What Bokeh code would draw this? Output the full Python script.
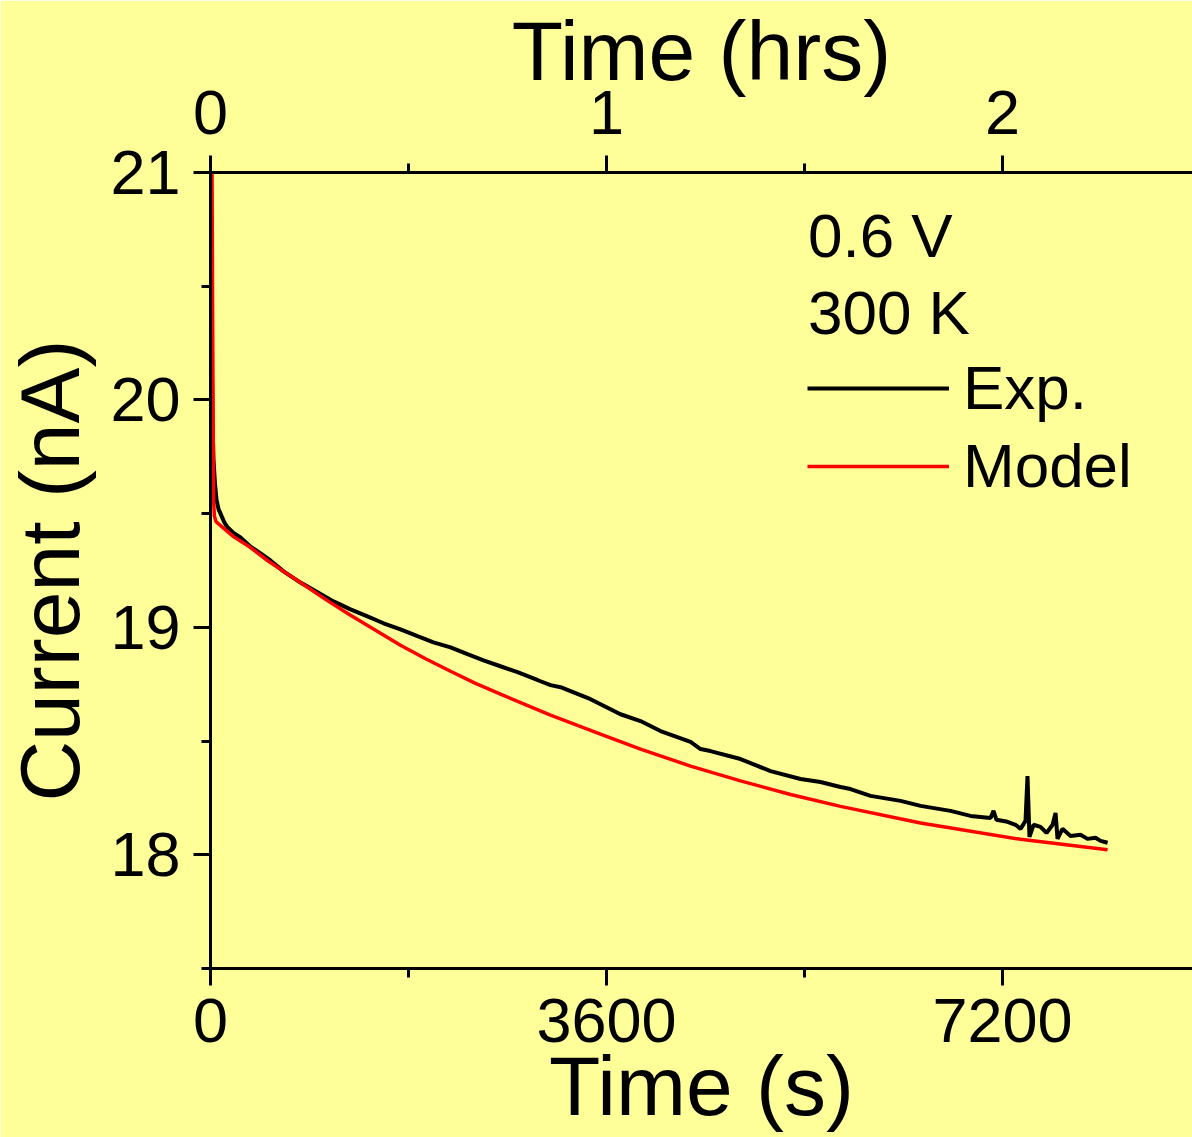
from bokeh.plotting import figure
from bokeh.models import (Range1d, LinearAxis, FixedTicker, Legend, LegendItem, Label)
from bokeh.embed import file_html
from bokeh.resources import INLINE

# ---------------- data ----------------
exp_t = [0, 9, 18, 27, 41, 55, 73, 100, 127, 155, 209, 273, 364, 455, 545, 664, 818, 973,
         1118, 1273, 1427, 1573, 1727, 1882, 2027, 2182, 2336, 2482, 2636, 2791, 2936, 3000,
         3091, 3182, 3455, 3727, 3909, 4091, 4364, 4455, 4545, 4818, 5091, 5364, 5545, 5727,
         5818, 6000, 6273, 6455, 6727, 6909, 7091, 7118, 7145, 7245, 7318, 7364, 7409, 7427,
         7445, 7482, 7545, 7600, 7655, 7682, 7700, 7745, 7818, 7909, 7973, 8045, 8091, 8155]
exp_i = [21.0, 20.31, 19.91, 19.74, 19.63, 19.56, 19.52, 19.49, 19.46, 19.44, 19.415, 19.395,
         19.355, 19.325, 19.294, 19.246, 19.197, 19.154, 19.114, 19.079, 19.048, 19.018, 18.991,
         18.961, 18.934, 18.912, 18.882, 18.855, 18.829, 18.803, 18.776, 18.763, 18.746, 18.737,
         18.684, 18.618, 18.588, 18.544, 18.496, 18.465, 18.456, 18.421, 18.368, 18.333, 18.320,
         18.298, 18.289, 18.259, 18.237, 18.215, 18.193, 18.171, 18.162, 18.193, 18.154, 18.145,
         18.132, 18.114, 18.149, 18.346, 18.079, 18.132, 18.123, 18.096, 18.132, 18.184, 18.070,
         18.114, 18.083, 18.088, 18.070, 18.075, 18.061, 18.053]

model_t = [14, 20, 28, 35, 50, 73, 209, 364, 518, 664, 818, 1045, 1273, 1500, 1727, 1955,
           2182, 2409, 2636, 3091, 3545, 3909, 4364, 4818, 5273, 5727, 6455, 7364, 8155]
model_i = [21.0, 20.3, 19.56, 19.49, 19.465, 19.455, 19.399, 19.351, 19.294, 19.246, 19.197,
           19.123, 19.053, 18.987, 18.921, 18.862, 18.807, 18.754, 18.706, 18.614, 18.531,
           18.465, 18.390, 18.325, 18.265, 18.213, 18.140, 18.068, 18.022]

x_ticks = [0, 3600, 7200]
x_minor = [1800, 5400]
hr_ticks = [0, 1, 2]
hr_minor = [0.5, 1.5]
y_ticks = [18, 19, 20, 21]
y_minor = [17.5, 18.5, 19.5, 20.5]

# ---------------- styling ----------------
BG = "#FFFF99"
FONT = "Liberation Sans"
TICK_FS = "63px"
LABEL_FS = "84px"
X_END = 8927.0

p = figure(width=1192, height=1137, output_backend="svg", toolbar_location=None,
           x_range=Range1d(0, X_END), y_range=Range1d(17.5, 21.0),
           x_axis_location=None, y_axis_location=None,
           min_border_left=210, min_border_right=0, min_border_top=172, min_border_bottom=169)
p.background_fill_color = BG
p.border_fill_color = BG
p.outline_line_color = None
p.xgrid.grid_line_color = None
p.ygrid.grid_line_color = None
p.extra_x_ranges = {"hrs": Range1d(0, X_END / 3600.0)}


def style_axis(ax, standoff, label_standoff):
    ax.axis_line_width = 3
    ax.axis_line_color = "black"
    ax.major_tick_line_width = 3
    ax.minor_tick_line_width = 3
    ax.major_tick_in = 0
    ax.major_tick_out = 17
    ax.minor_tick_in = 0
    ax.minor_tick_out = 9
    ax.major_label_text_font = FONT
    ax.major_label_text_font_size = TICK_FS
    ax.major_label_text_color = "black"
    ax.axis_label_text_font = FONT
    ax.axis_label_text_font_size = LABEL_FS
    ax.axis_label_text_font_style = "normal"
    ax.axis_label_text_color = "black"
    ax.major_label_standoff = standoff
    ax.axis_label_standoff = label_standoff


ax_b = LinearAxis(ticker=FixedTicker(ticks=x_ticks, minor_ticks=x_minor), axis_label="Time (s)")
style_axis(ax_b, 13, -6)
p.add_layout(ax_b, "below")

ax_t = LinearAxis(x_range_name="hrs", ticker=FixedTicker(ticks=hr_ticks, minor_ticks=hr_minor),
                  axis_label="Time (hrs)")
style_axis(ax_t, 22, -10)
ax_t.axis_label_text_baseline = "bottom"
p.add_layout(ax_t, "above")

ax_l = LinearAxis(ticker=FixedTicker(ticks=y_ticks, minor_ticks=y_minor), axis_label="Current (nA)")
style_axis(ax_l, 13, 10)
p.add_layout(ax_l, "left")

r_exp = p.line(exp_t, exp_i, line_color="black", line_width=4)
r_model = p.line(model_t, model_i, line_color="red", line_width=3.5)

legend = Legend(items=[LegendItem(label="Exp.", renderers=[r_exp]),
                       LegendItem(label="Model", renderers=[r_model])],
                location=(597, 467), orientation="vertical",
                glyph_width=142, glyph_height=70, label_height=70, spacing=7,
                label_standoff=14, padding=0, margin=0,
                border_line_color=None, background_fill_alpha=0,
                label_text_font=FONT, label_text_font_size="62px", label_text_color="black")
p.add_layout(legend)

for txt, yv in (("0.6 V", 20.725), ("300 K", 20.385)):
    p.add_layout(Label(x=5431, y=yv, text=txt, text_font=FONT, text_font_size="62px",
                       text_color="black", text_baseline="middle", text_align="left"))

open("out.html", "w").write(file_html(p, INLINE))
